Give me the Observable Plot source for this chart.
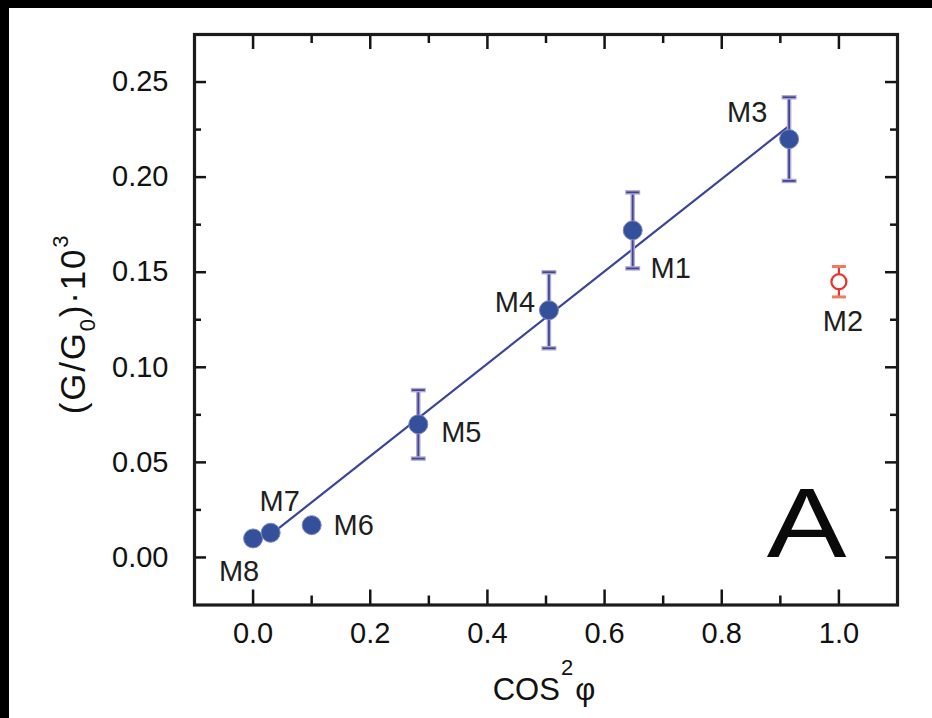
<!DOCTYPE html>
<html>
<head>
<meta charset="utf-8">
<script src="https://cdn.jsdelivr.net/npm/d3@7"></script>
<script src="https://cdn.jsdelivr.net/npm/@observablehq/plot@0.6"></script>
<style>
  html, body { margin: 0; padding: 0; background: #fff; }
  #wrap { width: 923px; height: 710px; border-top: 8px solid #000; border-left: 9px solid #000; }
  #wrap svg { display: block; }
</style>
</head>
<body>
<div id="wrap"></div>
<script>
// Molecules on the linear trend: conductance vs cos²φ
const molecules   = ["M8", "M7", "M6", "M5", "M4", "M1", "M3"];
const cos2phi     = [0.0, 0.03, 0.10, 0.282, 0.505, 0.648, 0.915];
const conductance = [0.010, 0.013, 0.017, 0.070, 0.130, 0.172, 0.220];
const condError   = [0, 0, 0, 0.018, 0.020, 0.020, 0.022];

// Outlier molecule (open red marker)
const outlierNames = ["M2"];
const outlierX     = [1.0];
const outlierY     = [0.145];
const outlierErr   = [0.008];

// Linear fit end points
const fitX = [0.03, 0.915];
const fitY = [0.012, 0.227];

// Axis ticks
const xMajor = [0.0, 0.2, 0.4, 0.6, 0.8, 1.0];
const xMinor = [0.1, 0.3, 0.5, 0.7, 0.9];
const yMajor = [0.00, 0.05, 0.10, 0.15, 0.20, 0.25];
const yMinor = [0.025, 0.075, 0.125, 0.175, 0.225];
const xTickLabels = ["0.0", "0.2", "0.4", "0.6", "0.8", "1.0"];
const yTickLabels = ["0.00", "0.05", "0.10", "0.15", "0.20", "0.25"];

// Label placement (pixel offsets from each marker)
const labelOffset = {
  M8: [-14, 33], M7: [9, -31], M6: [42, 1], M5: [43, 8],
  M4: [-34, -8], M1: [38, 38], M3: [-42, -26], M2: [4, 40]
};

const points = molecules.map((name, i) => ({name, x: cos2phi[i], y: conductance[i], err: condError[i]}));
const bars = points.filter(d => d.err > 0);
const outliers = outlierNames.map((name, i) => ({name, x: outlierX[i], y: outlierY[i], err: outlierErr[i]}));
const fit = fitX.map((x, i) => ({x, y: fitY[i]}));
const allLabels = points.concat(outliers);

const W = 923, H = 710;
const M = {top: 26, right: 35, bottom: 113.5, left: 185};
const plotW = W - M.left - M.right;
const plotH = H - M.top - M.bottom;
const font = "'Liberation Sans', Arial, Helvetica, sans-serif";
const tickColor = "#141414";

// Horizontal cap drawn as a custom dot symbol (half-width = r)
const capSymbol = {
  draw(context, size) {
    const h = Math.sqrt(size / Math.PI);
    context.moveTo(-h, 0);
    context.lineTo(h, 0);
  }
};

const labelMarks = allLabels.map(d => Plot.text([d], {
  x: "x", y: "y", text: "name",
  dx: labelOffset[d.name][0], dy: labelOffset[d.name][1],
  textAnchor: "middle", lineAnchor: "middle",
  fontSize: 29, fill: "#1e1e1e"
}));

const chart = Plot.plot({
  width: W, height: H,
  marginTop: M.top, marginRight: M.right, marginBottom: M.bottom, marginLeft: M.left,
  style: {fontFamily: font, background: "#fff", overflow: "visible"},
  x: {domain: [-0.1, 1.1], axis: null},
  y: {domain: [-0.025, 0.275], axis: null},
  marks: [
    // inward ticks on all four sides
    Plot.tickX(xMajor, {x: d => d, insetTop: plotH - 15, stroke: tickColor, strokeWidth: 2.5}),
    Plot.tickX(xMinor, {x: d => d, insetTop: plotH - 9, stroke: tickColor, strokeWidth: 2.5}),
    Plot.tickX(xMajor, {x: d => d, insetBottom: plotH - 15, stroke: tickColor, strokeWidth: 2.5}),
    Plot.tickX(xMinor, {x: d => d, insetBottom: plotH - 9, stroke: tickColor, strokeWidth: 2.5}),
    Plot.tickY(yMajor, {y: d => d, insetRight: plotW - 12, stroke: tickColor, strokeWidth: 2.5}),
    Plot.tickY(yMinor, {y: d => d, insetRight: plotW - 7, stroke: tickColor, strokeWidth: 2.5}),
    Plot.tickY(yMajor, {y: d => d, insetLeft: plotW - 12, stroke: tickColor, strokeWidth: 2.5}),
    Plot.tickY(yMinor, {y: d => d, insetLeft: plotW - 7, stroke: tickColor, strokeWidth: 2.5}),
    Plot.frame({stroke: "#1b1b1b", strokeWidth: 3.2}),

    // tick labels
    Plot.text(xMajor, {x: d => d, text: (d, i) => xTickLabels[i], frameAnchor: "bottom", dy: 37.5,
      lineAnchor: "bottom", textAnchor: "middle", fontSize: 29, fill: "#111"}),
    Plot.text(yMajor, {y: d => d, text: (d, i) => yTickLabels[i], frameAnchor: "left", dx: -26,
      lineAnchor: "middle", textAnchor: "end", fontSize: 29, fill: "#111"}),

    // linear fit
    Plot.line(fit, {x: "x", y: "y", stroke: "#3a4596", strokeWidth: 2.2}),

    // error bars of the fitted series
    Plot.ruleX(bars, {x: "x", y1: d => d.y - d.err, y2: d => d.y + d.err, stroke: "#b3a9d4", strokeWidth: 4.5}),
    Plot.ruleX(bars, {x: "x", y1: d => d.y - d.err, y2: d => d.y + d.err, stroke: "#3d4893", strokeWidth: 1.8}),
    Plot.dot(bars, {x: "x", y: d => d.y + d.err, r: 7.5, symbol: capSymbol, fill: "none", stroke: "#b3a9d4", strokeWidth: 4.5}),
    Plot.dot(bars, {x: "x", y: d => d.y - d.err, r: 7.5, symbol: capSymbol, fill: "none", stroke: "#b3a9d4", strokeWidth: 4.5}),
    Plot.dot(bars, {x: "x", y: d => d.y + d.err, r: 6.5, symbol: capSymbol, fill: "none", stroke: "#3d4893", strokeWidth: 1.8}),
    Plot.dot(bars, {x: "x", y: d => d.y - d.err, r: 6.5, symbol: capSymbol, fill: "none", stroke: "#3d4893", strokeWidth: 1.8}),

    // filled markers
    Plot.dot(points, {x: "x", y: "y", r: 9.5, fill: "#35509b", stroke: "#7d86c0", strokeWidth: 1}),

    // outlier with its error bar
    Plot.ruleX(outliers, {x: "x", y1: d => d.y - d.err, y2: d => d.y + d.err, stroke: "#e8332f", strokeWidth: 2.2}),
    Plot.dot(outliers, {x: "x", y: d => d.y + d.err, r: 7, symbol: capSymbol, fill: "none", stroke: "#f07a5c", strokeWidth: 3}),
    Plot.dot(outliers, {x: "x", y: d => d.y - d.err, r: 7, symbol: capSymbol, fill: "none", stroke: "#f07a5c", strokeWidth: 3}),
    Plot.dot(outliers, {x: "x", y: "y", r: 7.5, fill: "#fff", stroke: "#e8332f", strokeWidth: 2.2}),

    // molecule labels
    ...labelMarks,

    // panel letter
    Plot.text(["A"], {text: d => d, frameAnchor: "bottom-right", dx: -91, dy: -48.5,
      textAnchor: "middle", lineAnchor: "bottom", fontSize: 98, fill: "#0a0a0a",
      className: "panel-letter"})
  ]
});

document.getElementById("wrap").appendChild(chart);

const svg = d3.select(chart);

// Widen the panel letter about its anchor
svg.selectAll(".panel-letter text").each(function() {
  const t = this.getAttribute("transform") || "";
  this.setAttribute("transform", t + " scale(1.22,1)");
});

// Axis titles with super- and subscripts
const xt = svg.append("text")
  .attr("x", 535).attr("y", 692)
  .attr("text-anchor", "middle")
  .attr("font-family", font).attr("font-size", 31).attr("fill", "#111");
xt.append("tspan").text("COS");
xt.append("tspan").attr("font-size", 22).attr("dy", -25).attr("dx", 1).text("2");
xt.append("tspan").attr("dy", 25).attr("dx", 2).text("φ");

const yt = svg.append("text")
  .attr("transform", "translate(76,316) rotate(-90)")
  .attr("text-anchor", "middle")
  .attr("letter-spacing", 1.8)
  .attr("font-family", font).attr("font-size", 35).attr("fill", "#111");
yt.append("tspan").text("(G/G");
yt.append("tspan").attr("font-size", 22).attr("dy", 10).text("0");
yt.append("tspan").attr("dy", -10).text(")·10");
yt.append("tspan").attr("font-size", 22).attr("dy", -17).text("3");
</script>
</body>
</html>
